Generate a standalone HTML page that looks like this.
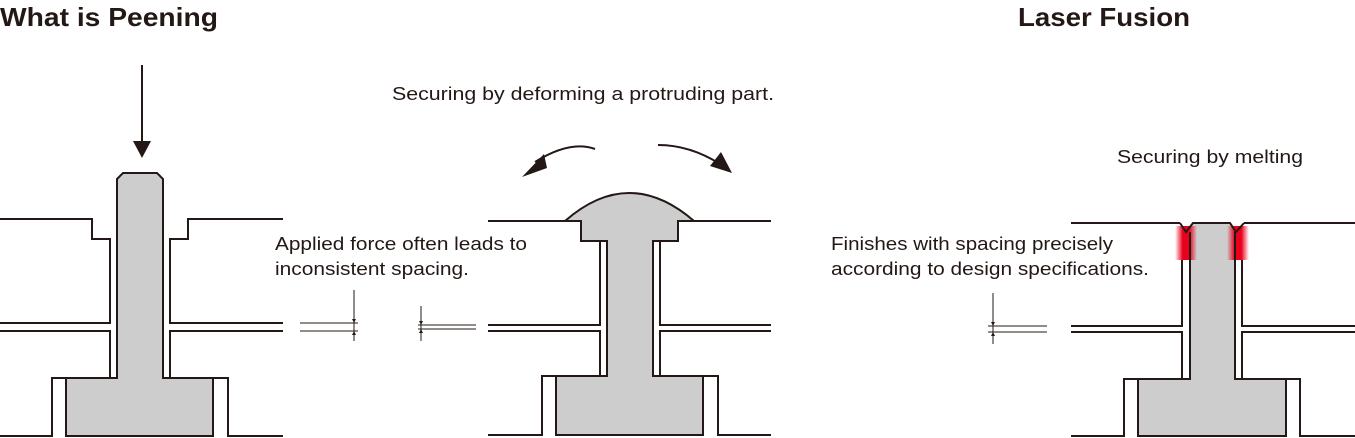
<!DOCTYPE html>
<html><head><meta charset="utf-8"><style>
html,body{margin:0;padding:0;background:#fff;}
svg{display:block;}
text{font-family:"Liberation Sans",sans-serif;fill:#231815;}
</style></head><body>
<svg width="1355" height="438" viewBox="0 0 1355 438" xmlns="http://www.w3.org/2000/svg">
<defs>
<linearGradient id="rg" x1="0" x2="1" y1="0" y2="0">
<stop offset="0" stop-color="#e8001c" stop-opacity="0"/>
<stop offset="0.35" stop-color="#e8001c" stop-opacity="1"/>
<stop offset="0.65" stop-color="#e8001c" stop-opacity="1"/>
<stop offset="1" stop-color="#e8001c" stop-opacity="0"/>
</linearGradient>
</defs>
<text x="0" y="26" font-size="26" font-weight="bold" textLength="218" lengthAdjust="spacingAndGlyphs">What is Peening</text>
<text x="1018" y="26" font-size="26" font-weight="bold" textLength="172" lengthAdjust="spacingAndGlyphs">Laser Fusion</text>
<text x="392" y="100" font-size="18" textLength="382" lengthAdjust="spacingAndGlyphs">Securing by deforming a protruding part.</text>
<text x="1117" y="163" font-size="18" textLength="186" lengthAdjust="spacingAndGlyphs">Securing by melting</text>
<text x="275" y="250" font-size="18" textLength="252" lengthAdjust="spacingAndGlyphs">Applied force often leads to</text>
<text x="275" y="275" font-size="18" textLength="194" lengthAdjust="spacingAndGlyphs">inconsistent spacing.</text>
<text x="831" y="250" font-size="18" textLength="282" lengthAdjust="spacingAndGlyphs">Finishes with spacing precisely</text>
<text x="831" y="275" font-size="18" textLength="318" lengthAdjust="spacingAndGlyphs">according to design specifications.</text>

<g fill="none" stroke="#231815" stroke-width="2">
<path d="M142 65 V142"/>
<path d="M0 219 H92 V239 H110 V323 H0"/>
<path d="M283 219 H188 V239 H170 V323 H283"/>
<path d="M0 331 H110 V378 H52 V436 H0"/>
<path d="M283 331 H170 V378 H228 V436 H283"/>
<path d="M117 179 L123 173 H157 L163 179 V378 H213 V436 H66 V378 H117 Z" fill="#cdcdcd"/>
<path d="M488 221 H581 V241 H600 V325 H488"/>
<path d="M771 221 H678 V241 H660 V325 H771"/>
<path d="M488 331 H600 V376 H542 V435 H488"/>
<path d="M771 331 H660 V376 H718 V435 H771"/>
<path d="M565 221 Q629 165 694 221 H678 V241 H653 V376 H703 V435 H556 V376 H607 V241 H581 V221 Z" fill="#cdcdcd"/>
<path d="M595 149 Q570 140 535 162"/>
<path d="M658 145 Q690 145 720 164"/>
<path d="M1071 223 H1180"/>
<path d="M1244 223 H1355"/>
<path d="M1182 260 V326 H1071"/>
<path d="M1242 260 V326 H1355"/>
<path d="M1071 332 H1182 V379 H1124 V436 H1071"/>
<path d="M1355 332 H1242 V379 H1300 V436 H1355"/>
</g>
<path d="M1191 228 L1193 224 H1230 L1236 233 L1236 379 H1286 V435 H1139 V379 H1190 V232 Z" fill="#cdcdcd"/>
<rect x="1175" y="226" width="22" height="34" fill="url(#rg)"/>
<rect x="1227" y="226" width="22" height="34" fill="url(#rg)"/>
<g fill="none" stroke="#231815" stroke-width="2">
<path d="M1190 232 V379 H1138 V436 H1286 V379 H1235 V232"/>
<path d="M1180 223 L1186 232 L1193 223 H1230 L1236 232 L1244 223"/>
</g>
<g fill="#231815">
<path d="M133 141 H151 L142 158 Z"/>
<path d="M522 177 L544 154 L547 168 Z"/>
<path d="M732 173 L710 166 L721 152 Z"/>
</g>
<g stroke="#231815" stroke-width="1" fill="none">
<path d="M300 323 H358 M300 331 H358 M354 290 V341"/>
<path d="M418 325 H476 M418 329 H476 M421 306 V341"/>
<path d="M988 326 H1047 M988 332 H1047 M993 293 V344"/>
</g>
<g fill="#231815">
<path d="M352 319 H356 L354 323 Z M352 335 H356 L354 331 Z"/>
<path d="M419 321 H423 L421 325 Z M419 333 H423 L421 329 Z"/>
<path d="M991 322 H995 L993 326 Z M991 336 H995 L993 332 Z"/>
</g>
</svg>
</body></html>
